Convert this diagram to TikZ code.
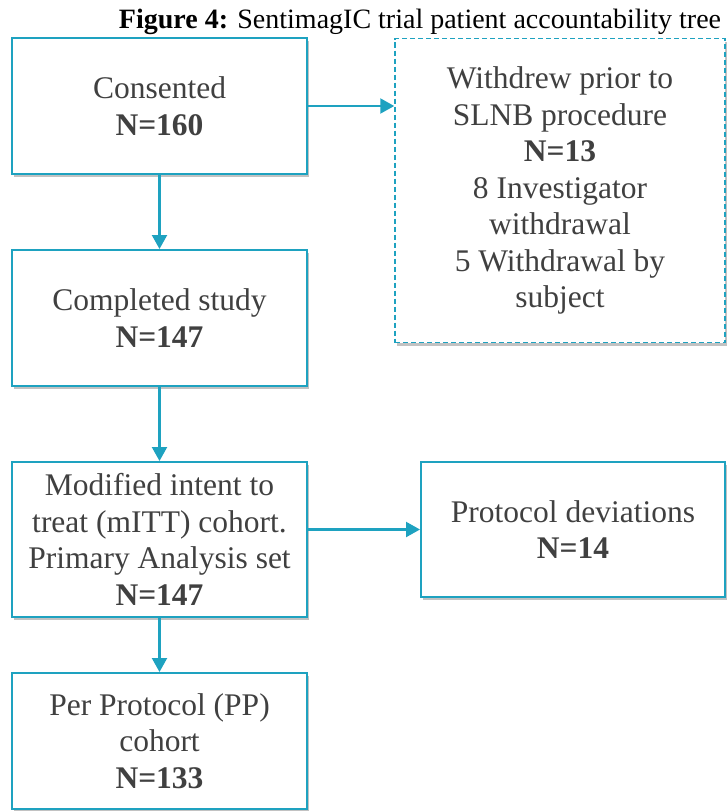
\documentclass[tikz,border=0pt]{standalone}
\usepackage{fontspec}
\setmainfont{Liberation Serif}
\usetikzlibrary{shadows,arrows.meta}
\definecolor{teal1}{RGB}{30,162,192}
\definecolor{txt}{RGB}{64,64,64}
\tikzset{
  box/.style={draw=teal1, line width=2pt, fill=white, align=center, text=txt,
    inner sep=0pt, font=\fontsize{31.5}{36.5}\selectfont,
    drop shadow={shadow xshift=2pt, shadow yshift=-3pt, opacity=0.4, fill=black!60}},
  dbox/.style={box, dash pattern=on 5pt off 3pt, line width=1.5pt},
  conn/.style={draw=teal1, line width=2.2pt, -{Triangle[length=14pt,width=15pt]}}
}
\begin{document}
\begin{tikzpicture}[x=1pt,y=-1pt]
\useasboundingbox (0,0) rectangle (726,811);
\node[anchor=base, font=\fontsize{28}{34}\selectfont] (title) at (420,28) {\textbf{Figure 4:} SentimagIC trial patient accountability tree};
\node[box, minimum width=295pt, minimum height=136pt] (cons) at (159.5,106) {Consented\\\textbf{N=160}};
\node[dbox, minimum width=330pt, minimum height=304pt] (withd) at (560,190.5) {Withdrew prior to\\SLNB procedure\\\textbf{N=13}\\8 Investigator\\withdrawal\\5 Withdrawal by\\subject};
\node[box, minimum width=295pt, minimum height=136pt] (comp) at (159.5,318) {Completed study\\\textbf{N=147}};
\node[box, minimum width=295pt, minimum height=155pt] (mitt) at (159.5,539.5) {Modified intent to\\treat (mITT) cohort.\\Primary Analysis set\\\textbf{N=147}};
\node[box, minimum width=304pt, minimum height=135pt] (prot) at (573,529.5) {Protocol deviations\\\textbf{N=14}};
\node[box, minimum width=295pt, minimum height=136pt] (pp) at (159.5,741) {Per Protocol (PP)\\cohort\\\textbf{N=133}};
\draw[conn] (cons.east) -- (cons.east -| withd.west);
\draw[conn] (cons.south) -- (comp.north);
\draw[conn] (comp.south) -- (mitt.north);
\draw[conn] (prot.west -| mitt.east) -- (prot.west);
\draw[conn] (mitt.south) -- (pp.north);
\end{tikzpicture}
\end{document}
